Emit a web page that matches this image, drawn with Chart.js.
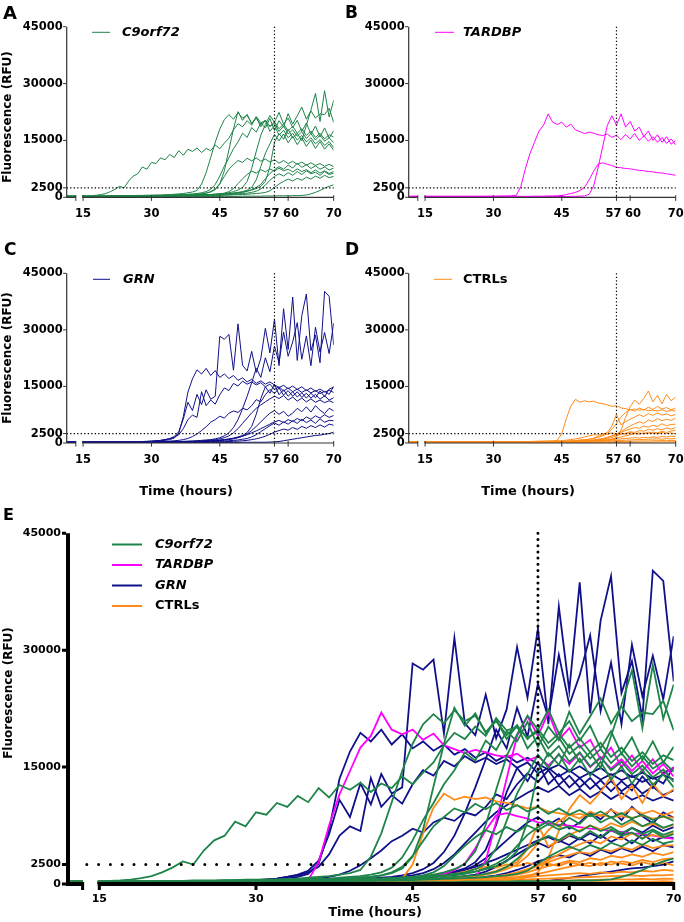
<!DOCTYPE html>
<html>
<head>
<meta charset="utf-8">
<title>RT-QuIC fluorescence curves</title>
<script src="https://cdn.jsdelivr.net/npm/chart.js@4.4.1/dist/chart.umd.min.js"></script>
<style>
  html, body { margin: 0; padding: 0; background: #fff; }
  #page { position: relative; width: 684px; height: 922px; overflow: hidden; }
  canvas { position: absolute; }
</style>
</head>
<body>
<div id="page">
  <canvas id="panelA" width="342" height="230" style="left:0;top:0"></canvas>
  <canvas id="panelB" width="342" height="230" style="left:342px;top:0"></canvas>
  <canvas id="panelC" width="342" height="270" style="left:0;top:230px"></canvas>
  <canvas id="panelD" width="342" height="270" style="left:342px;top:230px"></canvas>
  <canvas id="panelE" width="684" height="422" style="left:0;top:500px"></canvas>
</div>
<script>
// reading times (hours) after the axis break
const hours = [15,16,17,18,19,20,21,22,23,24,25,26,27,28,29,30,31,32,33,34,35,36,37,38,39,40,41,42,43,44,
  45,46,47,48,49,50,51,52,53,54,55,56,57,58,59,60,61,62,63,64,65,66,67,68,69,70];
const tickHours = [15, 30, 45, 57, 60, 70];
const tickRFU = [0, 2500, 15000, 30000, 45000];
const thresholdRFU = 2500;
const cutoffHour = 57;
const axisBreak = [13.4, 14.85];

// one row per well, values in RFU at the hours above
const c9orf72Wells = [
  [350,400,450,550,750,1000,1500,2100,2900,2500, 4300,5600,6200,8000,7400,9200,8900,10400,9900,11300,
   10500,12300,11100,12700,12100,13000,11800,12900,12300,13800, 12800,14300,15600,17800,19400,18600,20200,19000,21300,19700,
   20100,18800,19500,17400,18800,16700,17800,16100,17300,15500, 16800,15100,16400,14800,15700,14400],
  [300,300,300,350,350,350,400,400,400,450, 450,450,500,500,550,550,600,600,650,700,
   800,900,1000,1200,1400,1800,3500,6500,10500,14500, 18000,20500,21800,20600,22300,20900,21600,19500,20900,19100,
   20400,18600,19900,18100,19300,17500,18700,16900,18100,16300, 17500,15800,16900,15400,16500,15900],
  [250,250,300,300,300,300,350,350,350,350, 400,400,400,450,450,450,500,500,550,550,
   600,650,700,800,900,1000,1200,1500,2100,3400, 5600,8200,10400,12800,14600,16900,15800,18400,17200,19600,
   18300,20800,17600,20200,18500,22100,19300,21500,23800,20600, 22800,20900,22000,21800,23500,19700],
  [300,300,300,300,350,350,350,350,400,400, 400,400,450,450,450,500,500,500,550,550,
   600,600,650,700,750,800,900,1100,1500,2200, 3600,5500,7400,8600,9700,9200,10300,9600,10400,9500,
   10100,9300,9900,9000,9700,8900,9500,8700,9300,8500, 9100,8400,8900,8200,8700,8100],
  [200,200,200,250,250,250,250,300,300,300, 300,350,350,350,400,400,400,450,450,500,
   500,550,600,650,700,800,900,1100,1400,2000, 3500,7000,12500,18000,22600,20300,21900,19400,21100,18600,
   20300,17400,18900,16400,17700,15700,16900,15100,16300,14600, 15700,14100,15200,13700,14700,13100],
  [150,150,200,200,200,200,250,250,250,250, 300,300,300,300,350,350,350,350,400,400,
   400,450,450,500,500,550,600,650,700,800, 900,1100,1500,2300,3600,4900,6000,6900,6400,7300,
   6700,7500,6900,7700,7000,7400,6700,7500,6800,7300, 6500,7200,6400,7000,6300,6800],
  [250,250,250,300,300,300,300,350,350,350, 350,400,400,400,400,450,450,450,500,500,
   500,550,550,600,600,650,700,700,750,800, 900,1000,1200,1500,1900,2600,4200,7600,12100,16400,
   19200,21600,19800,22400,19300,20900,18400,20300,17400,19600, 16700,18800,15900,18300,15600,17600],
  [200,200,200,200,250,250,250,250,300,300, 300,300,350,350,350,350,400,400,400,400,
   450,450,500,500,550,550,600,650,700,750, 800,900,1000,1100,1300,1500,1900,2600,4600,8100,
   11600,14100,16600,14900,16700,14400,16100,13900,15700,13400, 15100,12900,14700,12700,14100,12400],
  [100,100,150,150,150,150,200,200,200,200, 200,250,250,250,250,300,300,300,300,350,
   350,350,400,400,400,450,450,500,500,550, 600,650,700,800,900,1000,1100,1300,1600,2200,
   3200,4500,5500,6200,5600,6500,5800,6800,6000,7000, 6200,6600,5800,6800,6000,6400],
  [300,300,300,300,300,350,350,350,350,350, 400,400,400,400,450,450,450,450,500,500,
   500,550,550,600,600,650,650,700,750,800, 850,900,1000,1100,1200,1400,1600,1900,2300,2900,
   4200,8000,14500,16800,15300,17900,15600,16900,14900,19000, 23000,27400,20000,28100,21200,25600],
  [100,100,100,150,150,150,150,150,200,200, 200,200,200,250,250,250,250,300,300,300,
   300,350,350,350,400,400,400,450,450,500, 500,550,600,650,700,750,800,900,1000,1100,
   1300,1700,2600,3500,4200,4800,4300,5000,4500,5300, 4800,5600,5000,5800,5200,5500],
  [100,100,100,100,100,100,100,100,100,100, 100,100,100,100,150,150,150,150,150,150,
   150,150,150,200,200,200,200,200,200,200, 250,250,250,250,250,300,300,300,300,300,
   350,350,350,400,400,400,450,450,500,600, 900,1300,1800,2400,2900,3300],
  [150,150,150,200,200,200,200,250,250,250, 250,300,300,300,300,350,350,350,400,400,
   400,450,450,500,500,550,550,600,650,700, 750,800,900,1000,1100,1300,1600,2000,2600,3400,
   4900,6300,7300,8100,7400,8500,7700,9000,7900,8600, 7600,8300,7400,8000,7200,7700]
];

const tardbpWells = [
  [300,300,300,300,300,300,300,300,300,300, 300,300,300,300,300,300,300,350,350,400,
   500,2800,7500,11500,14500,17500,19000,22000,19800,19200, 19800,18500,19300,17800,17300,16800,17200,16900,16500,16300,
   16700,15800,16400,15200,16600,15400,16800,15000,16200,14800, 16000,14500,15800,14200,15400,13800],
  [200,200,200,200,200,200,200,200,200,200, 200,200,200,200,250,250,250,250,250,250,
   250,250,250,250,300,300,300,350,350,400, 500,700,1000,1300,1800,2600,4600,6900,8800,9100,
   8700,8400,7900,7800,7600,7500,7300,7100,7000,6800, 6700,6500,6400,6200,6000,5800],
  [100,100,100,100,100,100,100,100,100,100, 100,100,100,100,100,100,100,100,100,100,
   100,100,100,150,150,150,150,150,200,200, 200,200,250,250,300,350,800,3000,8000,13500,
   19000,21500,19000,22000,18500,20000,17500,18500,16000,17500, 15000,16500,14500,16000,14000,15000]
];

const grnWells = [
  [300,300,300,300,300,300,300,300,300,300, 300,300,350,350,400,450,500,600,700,900,
   1300,2600,7000,13500,17000,19400,18300,19800,17900,19200, 17400,18300,17100,17900,16600,17300,16200,16900,15800,16500,
   15600,16200,15400,14700,15300,14400,15100,14200,14900,13900, 14600,13700,14300,13500,14000,13400],
  [250,250,250,250,250,250,250,250,250,250, 250,300,300,350,400,450,550,700,900,1200,
   1700,3000,6400,10800,8600,12900,10200,14100,11600,12400, 28300,27500,28800,19300,31600,20600,19100,24300,18700,22400,
   30400,23900,32800,20500,35600,24800,38700,21900,33800,39500, 24500,28600,21300,40200,38900,26000],
  [200,200,200,200,200,200,200,200,200,200, 200,200,250,250,250,300,300,300,350,350,
   400,400,450,500,550,600,700,800,900,1100, 1400,1900,2700,4100,6200,9100,12400,16000,19800,17400,
   22600,18900,25700,21300,29400,23000,26800,31900,22200,28400, 20500,30700,24100,29300,23700,31800],
  [300,300,300,300,300,300,300,300,300,300, 300,350,350,400,450,500,600,700,900,1100,
   1500,2200,3800,6200,7400,6800,13600,9900,11400,10300, 12800,14600,13900,15800,15100,16400,15600,16200,15400,16000,
   14900,15600,14200,14900,13800,14600,13600,14300,13400,14100, 13300,13900,13100,13700,12900,15000],
  [200,200,200,200,200,200,200,200,200,200, 200,250,250,250,300,300,350,400,450,500,
   600,700,900,1200,1700,2400,3300,4300,5500,6200, 7100,6600,7900,8500,8100,9200,8800,9900,11500,10900,
   12800,14200,13100,14600,12700,13900,12400,13600,12100,13200, 11900,12900,11600,12500,11400,12000],
  [150,150,150,150,150,150,150,150,150,150, 150,150,200,200,200,200,250,250,250,300,
   300,350,350,400,450,500,550,650,750,900, 1100,1400,1900,2700,3800,5200,6600,8000,9200,10100,
   10900,11700,12400,11800,12600,11400,12200,11100,11900,10900, 11700,10800,11400,10700,11200,10700],
  [150,150,150,150,150,150,150,150,150,150, 150,200,200,200,200,250,250,250,300,300,
   300,350,350,400,400,450,500,550,600,700, 800,900,1100,1300,1600,2000,2800,4400,7600,11800,
   14900,13200,15600,12800,14100,12400,13600,12200,13300,11900, 13200,12000,13800,12300,14300,14800],
  [100,100,100,100,100,100,100,100,100,100, 100,100,150,150,150,150,200,200,200,200,
   250,250,300,300,350,350,400,450,500,550, 650,750,900,1100,1400,1800,2400,3300,4400,5600,
   6800,7900,8600,7600,8400,7100,7900,9200,8300,9600, 8200,9900,8700,7800,9200,8500],
  [100,100,100,100,100,100,100,100,100,100, 100,100,100,150,150,150,150,150,200,200,
   200,200,250,250,250,300,300,350,350,400, 450,500,600,700,800,1000,1200,1600,2200,3000,
   3800,4600,5300,4700,5600,5000,5900,5200,6300,5400, 6100,5200,6400,5500,6000,5900],
  [100,100,100,100,100,100,100,100,100,100, 100,100,100,100,150,150,150,150,150,150,
   200,200,200,200,200,250,250,250,250,300, 300,350,400,450,500,600,700,900,1100,1400,
   1800,2300,2900,3300,3700,3400,4100,3600,4400,3900, 4600,4100,4800,4200,5000,4700],
  [100,100,100,100,100,100,100,100,100,100, 100,100,100,100,100,100,100,100,100,100,
   100,100,150,150,150,150,150,150,150,150, 150,150,150,150,150,200,200,200,200,200,
   200,250,300,400,600,800,1000,1200,1400,1600, 1800,2000,2100,2300,2500,2900],
  [150,150,150,150,150,150,150,150,150,150, 150,150,200,200,200,200,200,250,250,250,
   250,300,300,300,350,350,400,450,500,600, 700,850,1000,1200,1500,1800,2200,2700,3200,3800,
   4400,5000,5600,6000,5400,6200,5700,6500,5900,6900, 6300,7200,6600,7500,6800,7300]
];

const ctrlWells = [
  [300,300,300,300,300,300,300,300,300,300, 300,300,300,300,300,350,350,350,350,350,
   350,350,400,400,450,450,500,500,550,700, 2500,6500,9800,11600,10800,11200,10900,11100,10600,10400,
   10100,9700,9900,9300,9100,8800,9000,8700,8900,8600, 8700,8500,8800,8400,8600,8500],
  [200,200,200,200,200,200,200,200,200,200, 200,200,200,200,250,250,250,250,250,250,
   250,250,300,300,300,300,350,350,350,400, 400,400,450,450,500,500,500,550,550,600,
   600,900,1500,3400,6800,9600,11400,10300,11800,13800, 10900,12600,10400,12900,11200,12200],
  [250,250,250,250,250,250,250,250,250,250, 250,250,300,300,300,300,300,300,350,350,
   350,350,350,400,400,400,400,450,450,450, 500,550,600,700,800,900,1000,1200,1500,1900,
   2500,3600,5200,6900,8100,8900,8400,9300,8700,9500, 8900,9700,9000,9400,8800,9300],
  [200,200,200,200,200,200,200,200,200,200, 200,250,250,250,250,250,250,300,300,300,
   300,300,300,350,350,350,350,350,400,400, 400,450,500,600,700,800,1000,1300,1700,2200,
   2800,4500,7600,4800,5600,6300,6900,7500,7000,7800, 7300,8000,7400,7700,7200,7600],
  [150,150,150,150,150,150,150,150,150,150, 150,150,200,200,200,200,200,200,200,250,
   250,250,250,250,250,300,300,300,300,300, 300,350,400,450,500,600,700,800,1000,1200,
   1500,1900,2400,3100,3800,4500,5100,5600,5200,6100, 5700,6500,5900,6300,6000,6600],
  [200,200,200,200,200,200,200,200,200,200, 200,200,200,200,200,250,250,250,250,250,
   250,250,250,250,300,300,300,300,300,300, 300,350,400,450,500,550,650,750,900,1100,
   1400,1800,2300,2800,3300,3700,4100,3900,4500,4200, 4700,4400,5100,4600,4900,5000],
  [150,150,150,150,150,150,150,150,150,150, 150,150,150,150,150,200,200,200,200,200,
   200,200,200,200,200,250,250,250,250,250, 300,300,350,400,450,500,600,700,800,1000,
   1200,1500,1900,2300,2600,3000,2800,3300,3100,3600, 3400,3800,3500,4000,3700,4100],
  [100,100,100,100,100,100,100,100,100,100, 150,150,150,150,150,150,150,150,150,150,
   200,200,200,200,200,200,200,200,250,250, 250,300,300,350,400,450,500,600,700,800,
   900,1100,1300,1600,1900,2200,2500,2300,2700,2500, 2900,2700,3100,2800,3200,3300],
  [300,300,300,300,300,300,300,300,300,300, 300,300,300,350,350,350,350,350,350,350,
   400,400,400,400,400,450,450,450,500,550, 600,750,900,1100,1300,1600,1900,2200,2100,2500,
   2300,2700,2400,2600,2300,2800,2500,2700,2400,2900, 2600,2400,2800,2500,2700,2400],
  [150,150,150,150,150,150,150,150,150,150, 150,150,150,150,150,150,150,200,200,200,
   200,200,200,200,200,200,250,250,250,250, 250,300,300,350,400,450,500,550,650,700,
   800,900,1000,1100,1200,1300,1400,1300,1500,1400, 1600,1500,1700,1600,1800,1700],
  [100,100,100,100,100,100,100,100,100,100, 100,100,100,100,100,100,100,100,150,150,
   150,150,150,150,150,150,150,150,200,200, 200,200,250,250,300,300,350,400,450,500,
   550,600,650,700,750,800,850,900,950,1000, 1050,1100,1000,1150,1100,1200],
  [100,100,100,100,100,100,100,100,100,100, 100,100,100,100,100,100,100,100,100,100,
   100,100,100,100,100,150,150,150,150,150, 150,150,150,200,200,200,250,250,300,300,
   350,350,400,400,450,450,500,500,550,550, 600,600,650,600,700,650],
  [50,50,50,50,50,50,50,50,50,50, 50,50,50,50,50,50,50,50,50,50,
   50,50,50,50,50,50,50,50,50,50, 100,100,100,100,100,100,100,100,150,150,
   150,150,150,200,200,200,200,250,250,250, 250,300,300,300,350,300]
];

const c9Group = {label: 'C9orf72', italic: true, color: '#1e8449', order: 0, wells: c9orf72Wells};
const tdpGroup = {label: 'TARDBP', italic: true, color: '#ff00ff', order: 2, wells: tardbpWells};
const grnGroup = {label: 'GRN', italic: true, color: '#10108a', order: 3, wells: grnWells};
const ctrlGroup = {label: 'CTRLs', italic: false, color: '#ff8c1a', order: 1, wells: ctrlWells};

Chart.defaults.font.family = '"DejaVu Sans", Verdana, sans-serif';
Chart.defaults.color = '#000';

// the early reading sits left of the axis break
function wellPoints(values, xStart) {
  const first = values[0];
  const pts = [{x: xStart, y: first}, {x: axisBreak[0], y: first}, {x: axisBreak[0], y: null}, {x: axisBreak[1], y: first}];
  hours.forEach((h, i) => pts.push({x: h, y: values[i]}));
  return pts;
}

function datasetsFor(groups, xStart, width) {
  const sets = [];
  groups.forEach(g => {
    g.wells.forEach(w => sets.push({
      label: g.label, data: wellPoints(w, xStart), borderColor: g.color, borderWidth: width,
      pointRadius: 0, tension: 0, fill: false, spanGaps: false, order: g.order
    }));
  });
  return sets;
}

const decor = {
  id: 'decor',
  afterDatasetsDraw(chart, args, o) {
    const ctx = chart.ctx, a = chart.chartArea, xs = chart.scales.x, ys = chart.scales.y;
    ctx.save();
    // dotted threshold and cut-off
    ctx.strokeStyle = '#000';
    ctx.lineWidth = o.dotWidth;
    ctx.lineCap = o.dotCap;
    const yT = ys.getPixelForValue(thresholdRFU);
    ctx.setLineDash(o.dashH);
    ctx.beginPath(); ctx.moveTo(xs.getPixelForValue(o.dotFrom), yT); ctx.lineTo(a.right, yT); ctx.stroke();
    const xC = xs.getPixelForValue(cutoffHour);
    ctx.setLineDash(o.dashV);
    ctx.beginPath(); ctx.moveTo(xC, a.top); ctx.lineTo(xC, a.bottom); ctx.stroke();
    ctx.setLineDash([]);

    // axes with the break
    ctx.lineCap = 'butt';
    ctx.strokeStyle = o.axisColor;
    ctx.lineWidth = o.axisWidth;
    const hw = o.axisWidth / 2;
    const xb0 = xs.getPixelForValue(axisBreak[0]), xb1 = xs.getPixelForValue(axisBreak[1]);
    ctx.beginPath();
    ctx.moveTo(a.left, a.top); ctx.lineTo(a.left, a.bottom + hw);
    ctx.moveTo(a.left - hw, a.bottom); ctx.lineTo(xb0, a.bottom);
    ctx.moveTo(xb1, a.bottom); ctx.lineTo(a.right, a.bottom);
    ctx.stroke();

    ctx.lineWidth = o.tickWidth;
    ctx.beginPath();
    tickRFU.forEach(v => {
      const p = ys.getPixelForValue(v);
      ctx.moveTo(a.left - hw, p); ctx.lineTo(a.left - hw - o.tickLen, p);
    });
    const xTicks = o.breakTicks ? tickHours.concat([axisBreak[0]]) : tickHours;
    xTicks.forEach(v => {
      const p = xs.getPixelForValue(v);
      ctx.moveTo(p, a.bottom - hw - o.tickIn); ctx.lineTo(p, a.bottom + hw + o.tickLen);
    });
    ctx.stroke();

    // legend
    const lg = o.legend;
    lg.groups.forEach((g, i) => {
      const y = lg.y + i * lg.step;
      ctx.strokeStyle = g.color;
      ctx.lineWidth = lg.lineWidth;
      ctx.beginPath(); ctx.moveTo(lg.x0, y); ctx.lineTo(lg.x1, y); ctx.stroke();
      ctx.fillStyle = '#000';
      ctx.textBaseline = 'middle';
      ctx.textAlign = 'left';
      ctx.font = (g.italic ? 'italic ' : '') + 'bold ' + lg.size + 'px "DejaVu Sans"';
      ctx.fillText(g.label, lg.textX, y);
    });

    // titles and panel letter
    ctx.fillStyle = '#000';
    ctx.textAlign = 'center';
    ctx.textBaseline = 'middle';
    if (o.yTitle) {
      ctx.save();
      ctx.font = 'bold ' + o.yTitle.size + 'px "DejaVu Sans"';
      ctx.translate(o.yTitle.x, o.yTitle.y);
      ctx.rotate(-Math.PI / 2);
      ctx.fillText('Fluorescence (RFU)', 0, 0);
      ctx.restore();
    }
    if (o.xTitle) {
      ctx.font = 'bold ' + o.xTitle.size + 'px "DejaVu Sans"';
      ctx.fillText('Time (hours)', o.xTitle.x, o.xTitle.y);
    }
    ctx.textAlign = 'left';
    ctx.textBaseline = 'alphabetic';
    ctx.font = 'bold ' + o.letter.size + 'px "DejaVu Sans"';
    ctx.fillText(o.letter.text, o.letter.x, o.letter.y);
    ctx.restore();
  }
};

// keep the plot box fixed: label overflow must not shrink it
function fixBox(s, size) {
  if (s.isHorizontal()) s.height = size; else s.width = size;
  s.paddingLeft = 0; s.paddingRight = 0; s.paddingTop = 0; s.paddingBottom = 0;
}

function drawPanel(id, cfg) {
  const canvas = document.getElementById(id);
  const W = canvas.width, H = canvas.height;
  return new Chart(canvas, {
    type: 'line',
    data: {datasets: datasetsFor(cfg.groups, cfg.xMin, cfg.lineWidth)},
    options: {
      responsive: false,
      animation: false,
      events: [],
      layout: {padding: {left: 0, right: W - cfg.area.right, top: cfg.area.top, bottom: 0}},
      plugins: {legend: {display: false}, tooltip: {enabled: false}, decor: cfg.decor},
      scales: {
        x: {
          type: 'linear', min: cfg.xMin, max: 70,
          grid: {display: false, drawTicks: false}, border: {display: false},
          afterBuildTicks: s => { s.ticks = tickHours.map(v => ({value: v})); },
          afterFit: s => fixBox(s, H - cfg.area.bottom),
          ticks: {
            autoSkip: false, maxRotation: 0, minRotation: 0, padding: cfg.xTickPad, color: '#000',
            font: {size: cfg.tickSize, weight: 'bold'},
            // nudge the crowded 57 / 60 labels apart
            callback: v => cfg.spreadTicks ? (v === 57 ? '57\u2002' : v === 60 ? '\u200260' : String(v)) : String(v)
          }
        },
        y: {
          type: 'linear', min: 0, max: 45000,
          grid: {display: false, drawTicks: false}, border: {display: false},
          afterBuildTicks: s => { s.ticks = tickRFU.map(v => ({value: v})); },
          afterFit: s => fixBox(s, cfg.area.left),
          ticks: {padding: cfg.yTickPad, color: '#000', font: {size: cfg.tickSize, weight: 'bold'}, callback: v => String(v)}
        }
      }
    },
    plugins: [decor]
  });
}

function smallDecor(extra) {
  return Object.assign({
    dotWidth: 1.2, dotCap: 'butt', dashH: [1.3, 2.2], dashV: [1.3, 2.2], dotFrom: 11.4,
    axisColor: '#333', axisWidth: 1.2, tickWidth: 1, tickLen: 3, tickIn: 1.5, breakTicks: true
  }, extra);
}

const smallPanel = {xMin: 11.4, lineWidth: 1, tickSize: 11.5, xTickPad: 10, yTickPad: 4, spreadTicks: true};

drawPanel('panelA', Object.assign({}, smallPanel, {
  groups: [c9Group], area: {left: 66.7, top: 26.7, right: 333.7, bottom: 197.3},
  decor: smallDecor({
    legend: {groups: [c9Group], x0: 92, x1: 110, textX: 122, y: 32.3, step: 0, size: 13, lineWidth: 1},
    yTitle: {x: 8, y: 117, size: 12}, xTitle: null, letter: {text: 'A', x: 3, y: 19, size: 18}
  })
}));
drawPanel('panelB', Object.assign({}, smallPanel, {
  groups: [tdpGroup], area: {left: 66.7, top: 26.7, right: 333.7, bottom: 197.3},
  decor: smallDecor({
    legend: {groups: [tdpGroup], x0: 93, x1: 112, textX: 121, y: 32.3, step: 0, size: 13, lineWidth: 1},
    yTitle: null, xTitle: null, letter: {text: 'B', x: 3, y: 18, size: 17}
  })
}));
drawPanel('panelC', Object.assign({}, smallPanel, {
  groups: [grnGroup], area: {left: 66.7, top: 43.3, right: 333.7, bottom: 213},
  decor: smallDecor({
    legend: {groups: [grnGroup], x0: 93, x1: 110, textX: 123, y: 49.3, step: 0, size: 13, lineWidth: 1},
    yTitle: {x: 8, y: 128, size: 12}, xTitle: {x: 186, y: 262, size: 13}, letter: {text: 'C', x: 4, y: 25, size: 17}
  })
}));
drawPanel('panelD', Object.assign({}, smallPanel, {
  groups: [ctrlGroup], area: {left: 66.7, top: 43.3, right: 333.7, bottom: 213},
  decor: smallDecor({
    legend: {groups: [ctrlGroup], x0: 92, x1: 110, textX: 121, y: 49.3, step: 0, size: 13, lineWidth: 1},
    yTitle: null, xTitle: {x: 186, y: 262, size: 13}, letter: {text: 'D', x: 3, y: 25, size: 17}
  })
}));
drawPanel('panelE', {
  groups: [c9Group, tdpGroup, grnGroup, ctrlGroup], xMin: 12, lineWidth: 1.8, tickSize: 11,
  xTickPad: 9, yTickPad: 7, spreadTicks: false,
  area: {left: 68, top: 33.3, right: 673.7, bottom: 384},
  decor: {
    dotWidth: 3, dotCap: 'round', dashH: [0, 11.8], dashV: [0, 6.2], dotFrom: 13.8,
    axisColor: '#000', axisWidth: 4, tickWidth: 3, tickLen: 4, tickIn: 0, breakTicks: true,
    legend: {groups: [c9Group, tdpGroup, grnGroup, ctrlGroup], x0: 112, x1: 142, textX: 155, y: 44.5, step: 20.5, size: 13, lineWidth: 2},
    yTitle: {x: 9, y: 193, size: 12}, xTitle: {x: 375, y: 413, size: 13}, letter: {text: 'E', x: 3, y: 20, size: 16}
  }
});
</script>
</body>
</html>
